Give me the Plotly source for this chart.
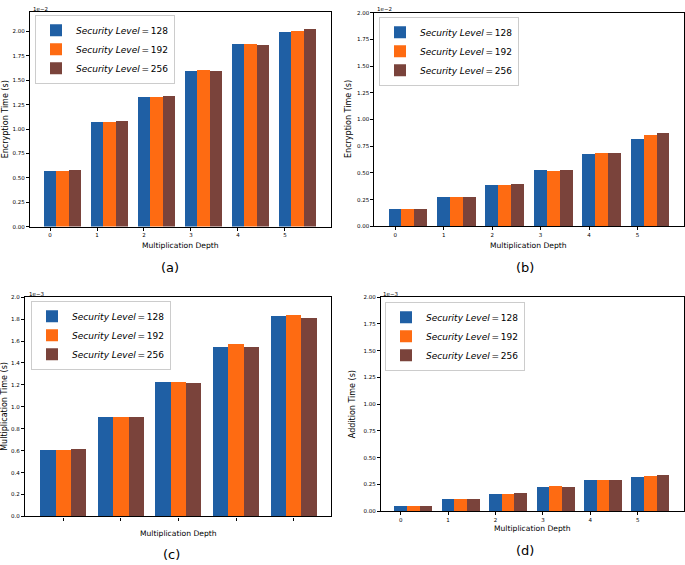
import plotly.graph_objects as go

W, H = 685, 565

# ---------------- data (values shown in axis units; multiply by 1e-2 / 1e-3 for seconds) ----
levels = [128, 192, 256]
depths = [0, 1, 2, 3, 4, 5]
depths_c = [1, 2, 3, 4, 5]

# (a) Encryption time, x1e-2 s
enc_a_128 = [0.568, 1.077, 1.333, 1.600, 1.870, 2.000]
enc_a_192 = [0.568, 1.077, 1.333, 1.606, 1.873, 2.007]
enc_a_256 = [0.582, 1.081, 1.337, 1.600, 1.860, 2.024]

# (b) Encryption time, x1e-2 s
enc_b_128 = [0.164, 0.281, 0.389, 0.531, 0.682, 0.818]
enc_b_192 = [0.164, 0.275, 0.395, 0.522, 0.688, 0.858]
enc_b_256 = [0.170, 0.281, 0.401, 0.528, 0.688, 0.873]

# (c) Multiplication time, x1e-3 s
mul_c_128 = [0.607, 0.904, 1.226, 1.548, 1.831]
mul_c_192 = [0.602, 0.910, 1.223, 1.569, 1.840]
mul_c_256 = [0.616, 0.907, 1.217, 1.542, 1.813]

# (d) Addition time, x1e-3 s
add_d_128 = [0.049, 0.110, 0.162, 0.229, 0.287, 0.323]
add_d_192 = [0.049, 0.110, 0.162, 0.235, 0.287, 0.332]
add_d_256 = [0.049, 0.110, 0.168, 0.229, 0.287, 0.341]

colors = ["#1f5fa4", "#fe6b12", "#7a433b"]
BAR_W = 0.8 / 3

def px_x(p):
    return p / W

def px_y(p):
    return 1 - p / H

panels = [
    dict(x=depths, series=[enc_a_128, enc_a_192, enc_a_256], offsets=[-BAR_W / 2, BAR_W / 2, 3 * BAR_W / 2],
         dom_x=[px_x(30), px_x(331)], dom_y=[px_y(226), px_y(9)], xr=[-0.426, 5.98], yr=[0, 2.2],
         dtick=0.25, fmt=".2f", ytitle="Encryption Time (s)", exp="1e\u22122", showlabels=True,
         legend_xy=(35, 12), cap="(a)", cap_xy=(170, 267), xt_y=245, yt_x=5, exp_xy=(31, 6)),
    dict(x=depths, series=[enc_b_128, enc_b_192, enc_b_256], offsets=[-BAR_W / 2, BAR_W / 2, 3 * BAR_W / 2],
         dom_x=[px_x(374.3), px_x(683.5)], dom_y=[px_y(225.7), px_y(9.7)], xr=[-0.433, 5.95], yr=[0, 2.0],
         dtick=0.25, fmt=".2f", ytitle="Encryption Time (s)", exp="1e\u22122", showlabels=True,
         legend_xy=(379, 14), cap="(b)", cap_xy=(525, 267), xt_y=245, yt_x=348.5, exp_xy=(375, 6)),
    dict(x=depths_c, series=[mul_c_128, mul_c_192, mul_c_256], offsets=[-1.5 * BAR_W, -BAR_W / 2, BAR_W / 2],
         dom_x=[px_x(25), px_x(331)], dom_y=[px_y(519), px_y(297.3)], xr=[0.335, 5.65], yr=[0, 2.0],
         dtick=0.2, fmt=".1f", ytitle="Multiplication Time (s)", exp="1e\u22123", showlabels=False,
         legend_xy=(31, 301), cap="(c)", cap_xy=(171, 557), xt_y=536, yt_x=5, exp_xy=(27, 294)),
    dict(x=depths, series=[add_d_128, add_d_192, add_d_256], offsets=[-BAR_W / 2, BAR_W / 2, 3 * BAR_W / 2],
         dom_x=[px_x(381), px_x(683.7)], dom_y=[px_y(513.7), px_y(297.3)], xr=[-0.415, 5.97], yr=[0, 2.0],
         dtick=0.25, fmt=".2f", ytitle="Addition Time (s)", exp="1e\u22123", showlabels=True,
         legend_xy=(385, 302), cap="(d)", cap_xy=(525, 553), xt_y=531, yt_x=352, exp_xy=(381, 294)),
]

FONT = "DejaVu Sans"
fig = go.Figure()
annotations = []
layout = dict(
    width=W, height=H, margin=dict(l=0, r=0, t=0, b=0),
    paper_bgcolor="white", plot_bgcolor="white", barmode="overlay",
    font=dict(family=FONT, color="black"), showlegend=True, bargap=0,
)

for i, p in enumerate(panels):
    n = "" if i == 0 else str(i + 1)
    xa, ya = "x" + n, "y" + n
    leg = "legend" + n
    for k, (vals, lvl) in enumerate(zip(p["series"], levels)):
        fig.add_trace(go.Bar(
            x=p["x"], y=vals, width=BAR_W, offset=p["offsets"][k],
            marker=dict(color=colors[k], line=dict(width=0)),
            name=f"<i>Security Level</i>\u2009=\u2009{lvl}",
            xaxis=xa, yaxis=ya, legend=leg,
        ))
    layout["xaxis" + n] = dict(
        domain=p["dom_x"], anchor=ya, range=p["xr"], tickmode="array", tickvals=p["x"],
        ticktext=[str(v) for v in p["x"]] if p["showlabels"] else ["" for _ in p["x"]],
        showline=True, linecolor="black", linewidth=1.1, mirror=True,
        ticks="outside", ticklen=3, tickwidth=0.8, tickcolor="black",
        tickfont=dict(size=5.5, family=FONT), showgrid=False, zeroline=False, fixedrange=True,
    )
    layout["yaxis" + n] = dict(
        domain=p["dom_y"], anchor=xa, range=p["yr"], tick0=0, dtick=p["dtick"], tickformat=p["fmt"],
        showline=True, linecolor="black", linewidth=1.1, mirror=True,
        ticks="outside", ticklen=3, tickwidth=0.8, tickcolor="black",
        tickfont=dict(size=5.5, family=FONT), showgrid=False, zeroline=False, fixedrange=True,
    )
    layout[leg] = dict(
        x=px_x(p["legend_xy"][0]), y=px_y(p["legend_xy"][1]), xanchor="left", yanchor="top",
        bgcolor="rgba(255,255,255,0.8)", bordercolor="#cccccc", borderwidth=1,
        font=dict(size=9, family=FONT), tracegroupgap=0, itemwidth=30,
    )
    cx = (p["dom_x"][0] + p["dom_x"][1]) / 2
    cy = (p["dom_y"][0] + p["dom_y"][1]) / 2
    annotations += [
        dict(text="Multiplication Depth", x=cx, y=px_y(p["xt_y"]), xref="paper", yref="paper",
             showarrow=False, font=dict(size=7.6, family=FONT), xanchor="center", yanchor="middle"),
        dict(text=p["ytitle"], x=px_x(p["yt_x"]), y=cy, xref="paper", yref="paper", textangle=-90,
             showarrow=False, font=dict(size=8, family=FONT), xanchor="center", yanchor="middle"),
        dict(text=p["exp"], x=px_x(p["exp_xy"][0]), y=px_y(p["exp_xy"][1]), xref="paper", yref="paper",
             showarrow=False, font=dict(size=5.5, family=FONT), xanchor="left", yanchor="middle"),
        dict(text=p["cap"], x=px_x(p["cap_xy"][0]), y=px_y(p["cap_xy"][1]), xref="paper", yref="paper",
             showarrow=False, font=dict(size=13, family=FONT), xanchor="center", yanchor="middle"),
    ]

layout["annotations"] = annotations
fig.update_layout(**layout)
fig.write_html(
    "out.html",
    config={"displayModeBar": False},
    post_script="document.body.style.margin='0';document.body.style.overflow='hidden';",
)
